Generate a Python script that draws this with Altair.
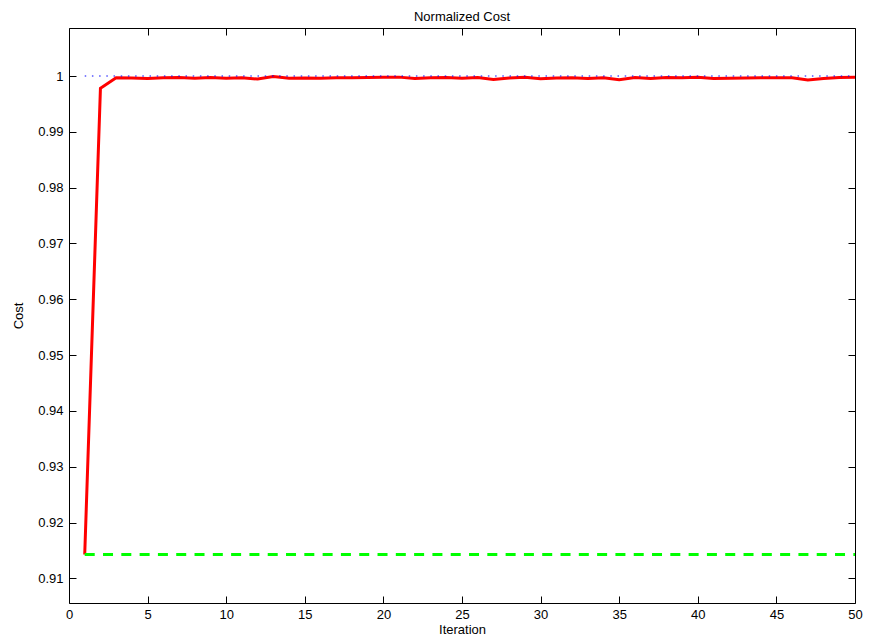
import altair as alt
import pandas as pd

# ---- data ----
iterations = list(range(1, 51))
cost = [0.9143, 0.9978, 0.99968, 0.99966, 0.99955, 0.99970, 0.99975, 0.99960, 0.99972, 0.99962,
        0.99968, 0.99945, 0.99990, 0.99960, 0.99965, 0.99962, 0.99970, 0.99968, 0.99972, 0.99978,
        0.99980, 0.99955, 0.99968, 0.99972, 0.99958, 0.99975, 0.99938, 0.99965, 0.99978, 0.99950,
        0.99965, 0.99968, 0.99955, 0.99970, 0.99935, 0.99975, 0.99955, 0.99972, 0.99970, 0.99978,
        0.99955, 0.99960, 0.99965, 0.99968, 0.99970, 0.99970, 0.99930, 0.99955, 0.99972, 0.99978]
upper_iter = [1, 50]
upper_val = [1.0, 1.0]
lower_iter = [1, 50]
lower_val = [0.9143, 0.9143]

x_ticks = list(range(0, 51, 5))
y_ticks = [0.91, 0.92, 0.93, 0.94, 0.95, 0.96, 0.97, 0.98, 0.99, 1.0]

red_df = pd.DataFrame({"iter": iterations, "cost": cost})
blue_df = pd.DataFrame({"iter": upper_iter, "cost": upper_val})
green_df = pd.DataFrame({"iter": lower_iter, "cost": lower_val})

FONT = "Liberation Sans"
xs = alt.Scale(domain=[0, 50], nice=False, zero=False)
ys = alt.Scale(domain=[0.9056, 1.0086], nice=False, zero=False)

# ticks point inward: axis moved 7px inside, ticks of 7px reach the frame
common = dict(domain=False, grid=False, tickColor="black", tickWidth=1, tickSize=7,
              offset=-7, labelFont=FONT, labelFontSize=13, labelColor="black",
              labelFlush=False, titleFont=FONT, titleFontSize=13, titleFontWeight="normal",
              titleColor="black")

ax_bottom = alt.Axis(values=x_ticks, labelPadding=5, title="Iteration", titlePadding=2, **common)
ax_left = alt.Axis(values=y_ticks, format=".2~f", labelPadding=6, title="Cost", titlePadding=12, **common)
ax_top = alt.Axis(values=x_ticks, orient="top", labels=False, title=None, **common)
ax_right = alt.Axis(values=y_ticks, orient="right", labels=False, title=None, **common)

red = alt.Chart(red_df).mark_line(color="#ff0000", strokeWidth=3).encode(
    x=alt.X("iter:Q", scale=xs, axis=ax_bottom),
    y=alt.Y("cost:Q", scale=ys, axis=ax_left),
)
blue = alt.Chart(blue_df).mark_line(color="#0000ff", strokeWidth=1, strokeDash=[1.5, 5.7]).encode(
    x=alt.X("iter:Q", scale=xs, axis=ax_top),
    y=alt.Y("cost:Q", scale=ys, axis=ax_right),
)
green = alt.Chart(green_df).mark_line(color="#00ff00", strokeWidth=3, strokeDash=[10, 8.3]).encode(
    x=alt.X("iter:Q", scale=xs, axis=None),
    y=alt.Y("cost:Q", scale=ys, axis=None),
)

chart = alt.layer(red, blue, green).resolve_axis(x="independent", y="independent").properties(
    width=786,
    height=575,
    background="white",
    autosize=alt.AutoSizeParams(type="none"),
    padding={"left": 61, "top": 20, "right": 8, "bottom": 33},
    title=alt.TitleParams("Normalized Cost", font=FONT, fontSize=13, fontWeight="normal",
                          color="black", anchor="middle", frame="group", baseline="bottom", offset=-9),
).configure_view(stroke="black", strokeWidth=1)

chart.save("out.html", embed_options={"renderer": "svg", "actions": False})
